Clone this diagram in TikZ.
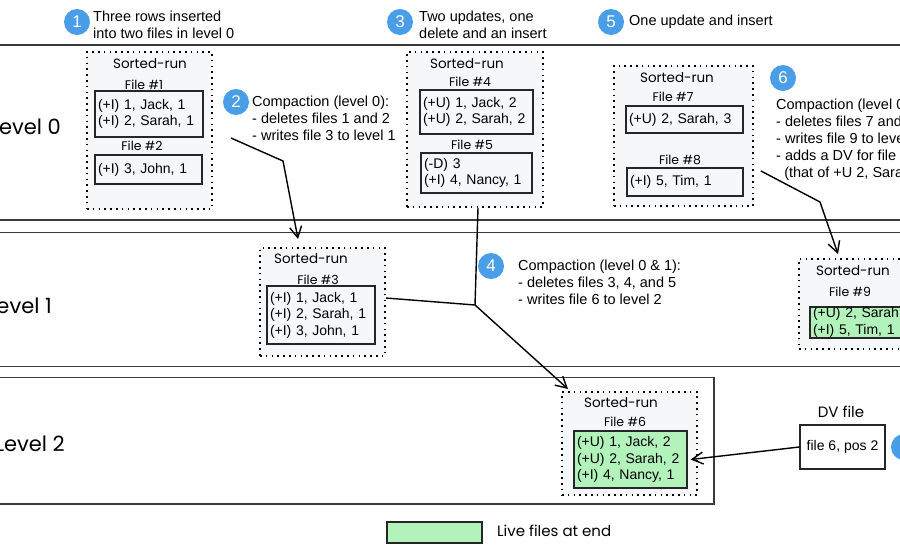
\documentclass[tikz,border=0pt]{standalone}
\usepackage{fontspec}
\setmainfont{Liberation Sans}
\newfontfamily\handfont{Poppins}
\usetikzlibrary{arrows.meta}
\definecolor{srfill}{HTML}{F6F7F9}
\definecolor{livegreen}{HTML}{B2F2BB}
\definecolor{badgeblue}{HTML}{4A9EE8}
\definecolor{bandline}{HTML}{3A3A3A}
\begin{document}
\begin{tikzpicture}[x=1pt,y=-1pt,
  band/.style={draw=bandline, line width=1.8pt},
  srbox/.style={draw=black, line width=1.8pt, dash pattern=on 1.6pt off 4.2pt, fill=srfill, inner sep=0pt},
  filebox/.style={draw=black!85, line width=1.3pt, fill=srfill, inner xsep=3pt, inner ysep=0pt, align=left, font=\fontsize{14}{16.5}\selectfont},
  livebox/.style={filebox, fill=livegreen},
  badge/.style={circle, fill=badgeblue, text=white, minimum size=26pt, inner sep=0pt, font=\fontsize{17}{17}\selectfont},
  note/.style={align=left, anchor=west, inner sep=0pt, font=\fontsize{14.5}{17}\selectfont},
  srlabel/.style={inner sep=0pt, font=\handfont\fontsize{13.5}{15}\selectfont},
  filelabel/.style={inner sep=0pt, font=\handfont\fontsize{12.5}{13}\selectfont},
  levellabel/.style={inner sep=0pt, anchor=east, font=\handfont\fontsize{21}{24}\selectfont},
  handtext/.style={inner sep=0pt, font=\handfont\fontsize{15}{17}\selectfont},
  conn/.style={draw=black, line width=1.4pt, -{Straight Barb[length=11pt,width=12pt,line width=1.4pt]}},
  plain/.style={draw=black, line width=1.4pt}
]
\useasboundingbox (0,0) rectangle (900,550);
\clip (0,0) rectangle (900,550);
\fill[white] (0,0) rectangle (900,550);

% bands
\draw[band] (0,45) -- (900,45);
\draw[band] (0,220) -- (900,220);
\draw[band] (0,232.5) -- (900,232.5);
\draw[band] (0,366.5) -- (900,366.5);
\draw[band, fill=white] (-5,377.5) rectangle (714,504);

\node[levellabel] (lv0) at (61,127) {Level 0};
\node[levellabel] (lv1) at (52,306) {Level 1};
\node[levellabel] (lv2) at (65,444) {Level 2};

% badges and notes
\node[badge] (b1) at (77,22) {1};
\node[note] (t1) at (93,25) {Three rows inserted\\into two files in level 0};
\node[badge] (b3) at (400,22) {3};
\node[note] (t3) at (419,24.5) {Two updates, one\\delete and an insert};
\node[badge] (b5) at (611,22) {5};
\node[note] (t5) at (629,22) {One update and insert};
\node[badge] (b2) at (236,102) {2};
\node[note] (t2) at (252,118.5) {Compaction (level 0):\\ - deletes files 1 and 2\\ - writes file 3 to level 1};
\node[badge] (b4) at (491,266) {4};
\node[note] (t4) at (518,282.5) {Compaction (level 0 \& 1):\\ - deletes files 3, 4, and 5\\ - writes file 6 to level 2};
\node[badge] (b6) at (783,78) {6};
\node[note] (t6) at (776,140) {Compaction (level 0 \& 1):\\ - deletes files 7 and 8\\ - writes file 9 to level 1\\ - adds a DV for file 6\\ \ \ (that of +U 2, Sarah, 2)};

% level 0: sorted run A
\node[srbox, minimum width=125pt, minimum height=157pt] (sr1) at (149.5,130.5) {};
\node[srlabel] (sr1l) at (150,64) {Sorted-run};
\node[filelabel] (f1l) at (144,85) {File \#1};
\node[filebox, text width=102pt, minimum height=46pt] (f1) at (149,114) {(+I) 1, Jack, 1\\(+I) 2, Sarah, 1};
\node[filelabel] (f2l) at (142,146) {File \#2};
\node[filebox, text width=101pt, minimum height=29pt] (f2) at (148.5,169.5) {(+I) 3, John, 1};

% level 0: sorted run B
\node[srbox, minimum width=136pt, minimum height=155pt] (sr2) at (475,129.5) {};
\node[srlabel] (sr2l) at (467,64) {Sorted-run};
\node[filelabel] (f4l) at (470,82) {File \#4};
\node[filebox, text width=107pt, minimum height=44pt] (f4) at (476.5,112) {(+U) 1, Jack, 2\\(+U) 2, Sarah, 2};
\node[filelabel] (f5l) at (472,145) {File \#5};
\node[filebox, text width=105pt, minimum height=40pt] (f5) at (476.5,173) {(-D) 3\\(+I) 4, Nancy, 1};

% level 0: sorted run C
\node[srbox, minimum width=139pt, minimum height=140pt] (sr3) at (683.5,136) {};
\node[srlabel] (sr3l) at (677,78) {Sorted-run};
\node[filelabel] (f7l) at (673,97) {File \#7};
\node[filebox, text width=111pt, minimum height=27pt] (f7) at (684.5,119.5) {(+U) 2, Sarah, 3};
\node[filelabel] (f8l) at (680,160) {File \#8};
\node[filebox, text width=110pt, minimum height=28pt] (f8) at (685,182) {(+I) 5, Tim, 1};

% level 1
\node[srbox, minimum width=125pt, minimum height=108pt] (sr4) at (322.5,302) {};
\node[srlabel] (sr4l) at (311,259) {Sorted-run};
\node[filelabel] (f3l) at (318,280) {File \#3};
\node[filebox, text width=102pt, minimum height=58pt] (f3) at (321,315) {(+I) 1, Jack, 1\\(+I) 2, Sarah, 1\\(+I) 3, John, 1};

\node[srbox, minimum width=136pt, minimum height=90pt] (sr5) at (867,304) {};
\node[srlabel] (sr5l) at (853,271) {Sorted-run};
\node[filelabel] (f9l) at (850,292) {File \#9};
\node[livebox, text width=108pt, minimum height=31pt] (f9) at (867,322.5) {(+U) 2, Sarah, 3\\(+I) 5, Tim, 1};

% level 2
\node[srbox, minimum width=135pt, minimum height=103pt] (sr6) at (629.5,443.5) {};
\node[srlabel] (sr6l) at (621,403) {Sorted-run};
\node[filelabel] (f6l) at (625,422) {File \#6};
\node[livebox, text width=107pt, minimum height=57pt] (f6) at (630.5,459.5) {(+U) 1, Jack, 2\\(+U) 2, Sarah, 2\\(+I) 4, Nancy, 1};

\node[handtext] (dvl) at (841,412) {DV file};
\node[draw=black!85, line width=1.3pt, fill=white, minimum width=85pt, minimum height=44pt, inner sep=0pt, font=\fontsize{14}{16.5}\selectfont] (dv) at (842.5,447) {file 6, pos 2};
\node[badge] (b6b) at (904,447) {6};

% legend
\node[draw=black!85, line width=1.3pt, fill=livegreen, minimum width=95pt, minimum height=21pt, inner sep=0pt] (leg) at (434.5,532.5) {};
\node[handtext, anchor=west] (legt) at (497,531) {Live files at end};

% connectors
\coordinate (a2s) at (231,138);
\coordinate (a2m) at (283,161);
\coordinate (a2e) at (298,239);
\draw[conn] (a2s) -- (a2m) -- (a2e);

\coordinate (j4) at (475,305);
\coordinate (a4e) at (568,389);
\draw[plain] ([xshift=3pt]sr2.south) -- (j4);
\draw[plain] ([yshift=4pt]sr4.east) -- (j4);
\draw[conn] (j4) -- (a4e);

\coordinate (a6s) at (761,171);
\coordinate (a6m) at (820,202);
\coordinate (a6e) at (838,254);
\draw[conn] (a6s) -- (a6m) -- (a6e);

\draw[conn] (dv.west) -- ([xshift=3pt]f6.east);
\end{tikzpicture}
\end{document}
